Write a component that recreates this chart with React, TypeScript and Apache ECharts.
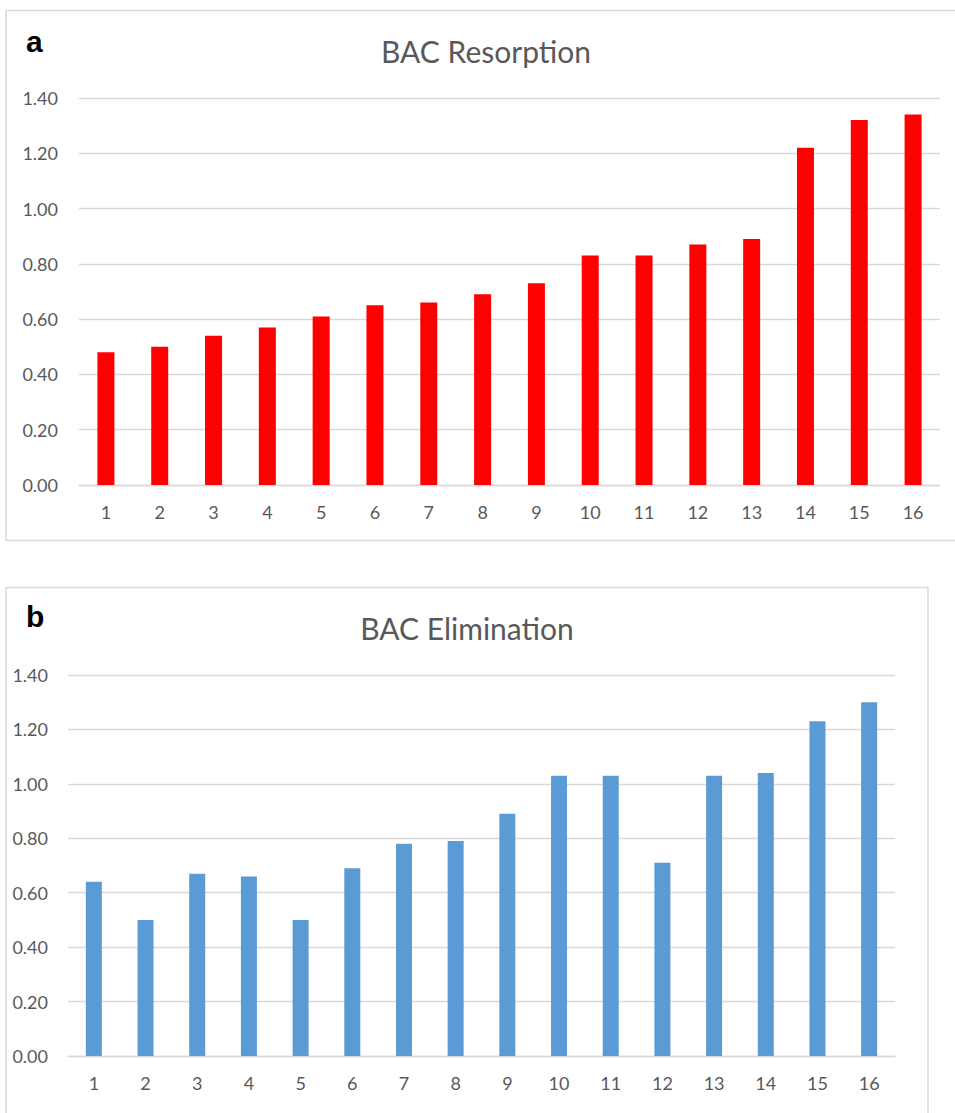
import React, { useEffect, useRef } from "react";
import * as echarts from "echarts";

const categories = ["1","2","3","4","5","6","7","8","9","10","11","12","13","14","15","16"];
const resorption = [0.48,0.50,0.54,0.57,0.61,0.65,0.66,0.69,0.73,0.83,0.83,0.87,0.89,1.22,1.32,1.34];
const elimination = [0.64,0.50,0.67,0.66,0.50,0.69,0.78,0.79,0.89,1.03,1.03,0.71,1.03,1.04,1.23,1.30];
const titles = ["BAC Resorption", "BAC Elimination"];
const panelLetters = ["a", "b"];

const gray = "#595959";
const gridColor = "#d9d9d9";
const font = "Lato";

export default function App() {
  const ref = useRef<HTMLDivElement>(null);
  useEffect(() => {
    const chart = echarts.init(ref.current!, null, { renderer: "svg" });
    const yAxisBase = (gridIndex: number, margin: number) => ({
      type: "value",
      gridIndex,
      min: 0,
      max: 1.4,
      interval: 0.2,
      axisLine: { show: false },
      axisTick: { show: false },
      axisLabel: { color: gray, fontSize: 18, fontFamily: font, margin, formatter: (v: number) => v.toFixed(2) },
      splitLine: { lineStyle: { color: gridColor, width: 1.3 } },
    });
    const xAxisBase = (gridIndex: number) => ({
      type: "category",
      gridIndex,
      data: categories,
      axisLine: { lineStyle: { color: gridColor, width: 1.3 } },
      axisTick: { show: false },
      axisLabel: { color: gray, fontSize: 18, fontFamily: font, margin: 18 },
    });
    chart.setOption({
      animation: false,
      backgroundColor: "#fff",
      title: [
        { text: titles[0], left: 481, top: 31, textAlign: "center", textStyle: { color: gray, fontSize: 30, fontWeight: "normal", fontFamily: font } },
        { text: titles[1], left: 462, top: 608, textAlign: "center", textStyle: { color: gray, fontSize: 30, fontWeight: "normal", fontFamily: font } },
      ],
      grid: [
        { left: 79, top: 98, width: 861, height: 387 },
        { left: 68, top: 675, width: 827, height: 381 },
      ],
      xAxis: [xAxisBase(0), xAxisBase(1)],
      yAxis: [yAxisBase(0, 21), yAxisBase(1, 20)],
      series: [
        { type: "bar", xAxisIndex: 0, yAxisIndex: 0, data: resorption, barWidth: 17, itemStyle: { color: "#ff0000" } },
        { type: "bar", xAxisIndex: 1, yAxisIndex: 1, data: elimination, barWidth: 16, itemStyle: { color: "#5b9bd5" } },
      ],
      graphic: [
        { type: "rect", shape: { x: 6, y: 10.5, width: 960, height: 530 }, style: { fill: "none", stroke: "#d9d9d9", lineWidth: 1.5 }, silent: true },
        { type: "rect", shape: { x: 6, y: 587.5, width: 922, height: 560 }, style: { fill: "none", stroke: "#d9d9d9", lineWidth: 1.5 }, silent: true },
        { type: "text", x: 26, y: 26, style: { text: panelLetters[0], fill: "#000", font: "bold 30px 'Liberation Sans', Arial, sans-serif" } },
        { type: "text", x: 26, y: 601, style: { text: panelLetters[1], fill: "#000", font: "bold 30px 'Liberation Sans', Arial, sans-serif" } },
      ],
    });
    return () => chart.dispose();
  }, []);
  return <div ref={ref} style={{ position: "absolute", left: 0, top: 0, width: 955, height: 1113 }} />;
}
